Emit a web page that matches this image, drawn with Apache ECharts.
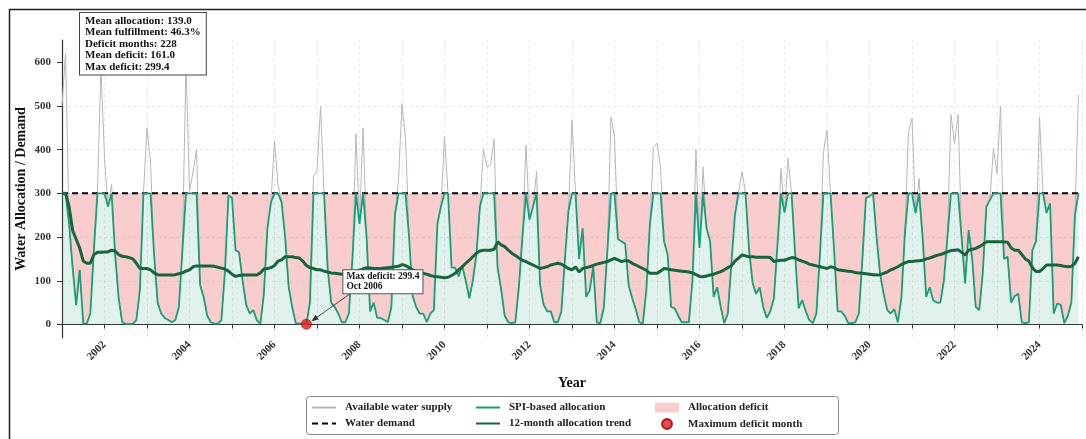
<!DOCTYPE html>
<html><head><meta charset="utf-8">
<script src="https://cdn.jsdelivr.net/npm/echarts@6/dist/echarts.min.js"></script>
<style>html,body{margin:0;padding:0;background:#fff}#c{width:1086px;height:439px}</style>
</head><body><div id="c"></div>
<script>
// ---------- data (monthly, Jan 2001 .. Dec 2024) ----------
const startYear = 2001;
const allocation = [
 300,300,230,130,44,125,2,2,25,170,300,300,
 300,270,300,160,60,5,1,1,2,10,80,300,
 300,300,160,50,25,15,10,5,10,40,170,300,
 300,300,300,90,63,20,5,2,2,10,120,295,
 290,170,165,100,45,25,33,10,1,70,220,280,
 300,300,280,200,86,40,3,2,2,0.6,50,300,
 300,300,300,130,50,40,25,5,5,25,150,300,
 230,300,200,30,50,15,15,10,5,40,250,300,
 300,300,200,65,40,25,25,5,25,33,230,270,
 300,300,130,130,110,135,100,60,100,160,270,300,
 300,300,300,130,80,20,5,3,5,86,200,300,
 240,270,300,90,45,30,30,5,5,30,150,260,
 300,300,150,220,63,78,132,5,3,40,170,300,
 300,195,190,185,90,60,35,5,2,80,230,300,
 300,300,190,160,40,37,20,5,5,5,100,300,
 175,300,220,190,63,85,40,3,25,140,250,300,
 300,300,170,95,70,85,40,15,30,60,180,300,
 256,300,300,160,37,56,30,10,3,25,160,300,
 300,300,170,30,30,20,3,3,5,25,150,290,
 293,300,200,115,70,33,25,35,5,60,210,300,
 300,255,300,200,63,85,55,50,50,100,200,300,
 300,300,200,94,216,150,40,33,120,270,285,300,
 300,300,150,155,50,65,70,5,3,5,170,190,
 300,300,255,277,25,48,45,3,20,50,250,300
];
const supply = [
 500,620,230,130,44,125,2,2,25,170,300,590,
 380,270,320,160,60,5,1,1,2,10,80,300,
 450,370,160,50,25,15,10,5,10,40,170,600,
 305,350,400,90,63,20,5,2,2,10,120,295,
 290,170,165,100,45,25,33,10,1,70,220,280,
 420,320,280,200,86,40,3,2,2,0.6,50,340,
 350,500,300,130,50,40,25,5,5,25,150,437,
 230,450,200,30,50,15,15,10,5,40,250,330,
 505,425,200,65,40,25,25,5,25,33,230,270,
 430,300,130,130,110,135,100,60,100,160,270,400,
 360,365,425,130,80,20,5,3,5,86,200,410,
 240,270,350,90,45,30,30,5,5,30,150,260,
 468,300,150,220,63,78,132,5,3,40,170,475,
 430,195,190,185,90,60,35,5,2,80,230,405,
 415,360,190,160,40,37,20,5,5,5,100,400,
 175,360,220,190,63,85,40,3,25,140,250,300,
 350,300,170,95,70,85,40,15,30,60,180,357,
 256,380,300,160,37,56,30,10,3,25,160,395,
 445,300,170,30,30,20,3,3,5,25,150,290,
 293,300,200,115,70,33,25,35,5,60,210,441,
 472,255,334,200,63,85,55,50,50,100,200,480,
 415,480,200,94,216,150,40,33,120,270,285,403,
 346,500,150,155,50,65,70,5,3,5,170,190,
 475,300,255,277,25,48,45,3,20,50,250,525
];
const trend = [
 300,300,270,215,195,175,145,140,140,160,165,165,
 166,166,170,168,160,156,155,153,150,140,128,128,
 128,125,118,114,113,113,113,113,114,116,118,122,
 125,132,134,134,134,134,134,133,131,129,127,122,
 115,110,112,113,113,113,113,113,118,127,128,130,
 135,145,148,155,155,155,153,152,145,135,130,128,
 125,125,122,120,118,117,116,115,116,117,119,121,
 124,127,130,129,128,128,128,129,130,131,132,133,
 137,135,130,125,120,117,117,115,112,110,109,108,
 107,108,112,117,125,132,140,147,155,163,168,170,
 170,170,172,189,182,178,170,163,158,152,147,144,
 140,136,132,128,130,132,136,138,140,138,133,128,
 125,132,120,128,130,132,135,138,140,142,144,148,
 151,148,144,146,145,140,136,132,128,124,117,117,
 117,122,128,127,125,124,123,122,121,120,118,114,
 110,109,111,113,115,118,121,125,130,134,145,152,
 159,157,155,155,154,154,154,154,153,144,146,147,
 147,150,153,152,148,145,142,138,136,134,132,130,
 128,132,130,125,124,123,122,121,119,118,117,116,
 115,114,113,114,117,120,125,128,132,137,141,144,
 144,145,146,147,150,152,155,158,160,163,166,169,
 170,171,165,159,170,172,174,178,183,189,189,189,
 189,189,189,188,175,170,170,160,150,145,130,121,
 121,128,136,136,136,136,135,133,132,133,140,155
];
const DEMAND = 300;
const maxDeficitIndex = 69;          // Oct 2006
const maxDeficitLabel = ['Max deficit: 299.4', 'Oct 2006'];
const statsLines = ['Mean allocation: 139.0', 'Mean fulfillment: 46.3%', 'Deficit months: 228', 'Mean deficit: 161.0', 'Max deficit: 299.4'];
const yTicks = [0, 100, 200, 300, 400, 500, 600];
const xLabelYears = [2002, 2004, 2006, 2008, 2010, 2012, 2014, 2016, 2018, 2020, 2022, 2024];
const names = {
  supply: 'Available water supply', demand: 'Water demand', alloc: 'SPI-based allocation',
  trend: '12-month allocation trend', deficit: 'Allocation deficit', maxd: 'Maximum deficit month'
};

// ---------- build ----------
const FONT = '"Liberation Serif", "DejaVu Serif", serif';
const N = allocation.length;
const xs = allocation.map((_, i) => startYear + i / 12);
const pts = arr => arr.map((v, i) => [xs[i], v]);
const demandLine = xs.map(() => DEMAND);
const zeroLine = xs.map(() => 0);

// filled band between two series, drawn through the axes' own scales
function band(name, upper, lower, color) {
  return {
    type: 'custom', name, silent: true, z: 1, color, itemStyle: {color},
    data: [[xs[0], 0]],
    renderItem: (params, api) => {
      const top = upper.map((v, i) => api.coord([xs[i], v]));
      const bot = lower.map((v, i) => api.coord([xs[i], v])).reverse();
      return {type: 'polygon', shape: {points: top.concat(bot)}, style: {fill: color}};
    }
  };
}

const chart = echarts.init(document.getElementById('c'), null, {renderer: 'canvas'});
const legendText = {fontFamily: FONT, fontWeight: 'bold', fontSize: 11, color: '#222', padding: [0, 0, 0, 4]};
const legendBase = {orient: 'vertical', top: 402, padding: 0, itemGap: 5, itemWidth: 24, itemHeight: 10, textStyle: legendText, selectedMode: false};

chart.setOption({
  animation: false,
  grid: {left: 62, right: 4, top: 40, bottom: 101},
  xAxis: {
    type: 'value', min: 2001, max: 2025, interval: 1,
    name: 'Year', nameLocation: 'middle', nameGap: 38, nameMoveOverlap: false,
    nameTextStyle: {fontFamily: FONT, fontWeight: 'bold', fontSize: 14, color: '#111'},
    axisLine: {lineStyle: {color: '#333', width: 1.2}},
    axisTick: {length: 4, lineStyle: {color: '#333'}},
    axisLabel: {rotate: 45, margin: 5, formatter: v => xLabelYears.includes(v) ? String(v) : '',
      fontFamily: FONT, fontWeight: 'bold', fontSize: 11, color: '#333'},
    splitLine: {show: true, lineStyle: {type: [3, 3], color: '#e2e2e2', width: 0.8}}
  },
  yAxis: {
    type: 'value', min: -31, max: 651,
    name: 'Water Allocation / Demand', nameLocation: 'middle', nameGap: 34, nameRotate: 90, nameMoveOverlap: false,
    nameTextStyle: {fontFamily: FONT, fontWeight: 'bold', fontSize: 14, color: '#111'},
    axisLine: {show: true, lineStyle: {color: '#333', width: 1.2}},
    axisTick: {show: true, length: 5, customValues: yTicks, lineStyle: {color: '#333'}},
    axisLabel: {customValues: yTicks, margin: 11, fontFamily: FONT, fontWeight: 'bold', fontSize: 11, color: '#333'},
    splitLine: {show: true, showMinLine: false, showMaxLine: false, lineStyle: {type: [3, 3], color: '#e2e2e2', width: 0.8}}
  },
  legend: [
    Object.assign({left: 311, data: [names.supply, names.demand], itemStyle: {opacity: 0}}, legendBase),
    Object.assign({left: 475, data: [names.alloc, names.trend], itemStyle: {opacity: 0}}, legendBase),
    Object.assign({left: 655, data: [{name: names.deficit, icon: 'rect'}, {name: names.maxd, icon: 'circle'}]}, legendBase)
  ],
  series: [
    band('allocFill', allocation, zeroLine, 'rgba(27,158,119,0.13)'),
    band(names.deficit, demandLine, allocation, 'rgba(236,100,100,0.32)'),
    {type: 'line', name: names.supply, data: pts(supply), symbol: 'none', color: '#b5b5c2',
      lineStyle: {width: 1, color: '#b5b5c2'}, z: 2},
    {type: 'line', name: names.demand, data: [[xs[0], DEMAND], [xs[N - 1], DEMAND]], symbol: 'none', color: '#000',
      lineStyle: {width: 2, type: [6, 4], color: '#000'}, z: 3},
    {type: 'line', name: names.alloc, data: pts(allocation), symbol: 'none', color: '#1b9e77',
      lineStyle: {width: 1.8, color: '#1b9e77'}, z: 4},
    {type: 'line', name: names.trend, data: pts(trend), symbol: 'none', color: '#17643f',
      lineStyle: {width: 3, color: '#17643f'}, z: 5},
    {type: 'scatter', name: names.maxd, data: [[xs[maxDeficitIndex], allocation[maxDeficitIndex]]],
      symbolSize: 10, color: '#e31a1c', itemStyle: {color: '#e31a1c', borderColor: '#8b0000', borderWidth: 0.8}, z: 6}
  ]
});

// ---------- annotations (placed relative to the data point) ----------
const p = chart.convertToPixel({gridIndex: 0}, [xs[maxDeficitIndex], allocation[maxDeficitIndex]]);
const boxX = p[0] + 37, boxY = p[1] - 54;
const aStart = [p[0] + 46, p[1] - 32], aEnd = [p[0] + 5, p[1] - 3];
const dx = aEnd[0] - aStart[0], dy = aEnd[1] - aStart[1], L = Math.hypot(dx, dy);
const ux = dx / L, uy = dy / L, hl = 7, hw = 2.8;
const headBase = [aEnd[0] - ux * hl, aEnd[1] - uy * hl];

chart.setOption({
  graphic: [
    {type: 'rect', left: 7, top: 7, shape: {width: 1100, height: 450}, style: {fill: 'none', stroke: '#222', lineWidth: 1.5}, silent: true},
    {type: 'rect', left: 306, top: 396, z: -1, shape: {width: 532, height: 38, r: 3}, style: {fill: '#fff', stroke: '#888', lineWidth: 1}, silent: true},
    {type: 'text', left: 79, top: 12, z: 100, style: {text: statsLines.join('\n'), font: 'bold 11px ' + FONT, fill: '#111',
      lineHeight: 11.5, backgroundColor: '#fff', borderColor: '#444', borderWidth: 1, padding: [2, 5, 2, 5]}},
    {type: 'line', z: 100, shape: {x1: aStart[0], y1: aStart[1], x2: headBase[0], y2: headBase[1]}, style: {stroke: '#333', lineWidth: 0.9}},
    {type: 'polygon', z: 100, shape: {points: [aEnd, [headBase[0] - uy * hw, headBase[1] + ux * hw], [headBase[0] + uy * hw, headBase[1] - ux * hw]]}, style: {fill: '#333'}},
    {type: 'text', x: boxX, y: boxY, z: 100, style: {text: maxDeficitLabel.join('\n'), font: 'bold 9.5px ' + FONT, fill: '#111',
      lineHeight: 10.5, backgroundColor: '#fff', borderColor: '#555', borderWidth: 1, padding: [1, 3, 1, 3]}}
  ]
});
</script>
</body></html>
